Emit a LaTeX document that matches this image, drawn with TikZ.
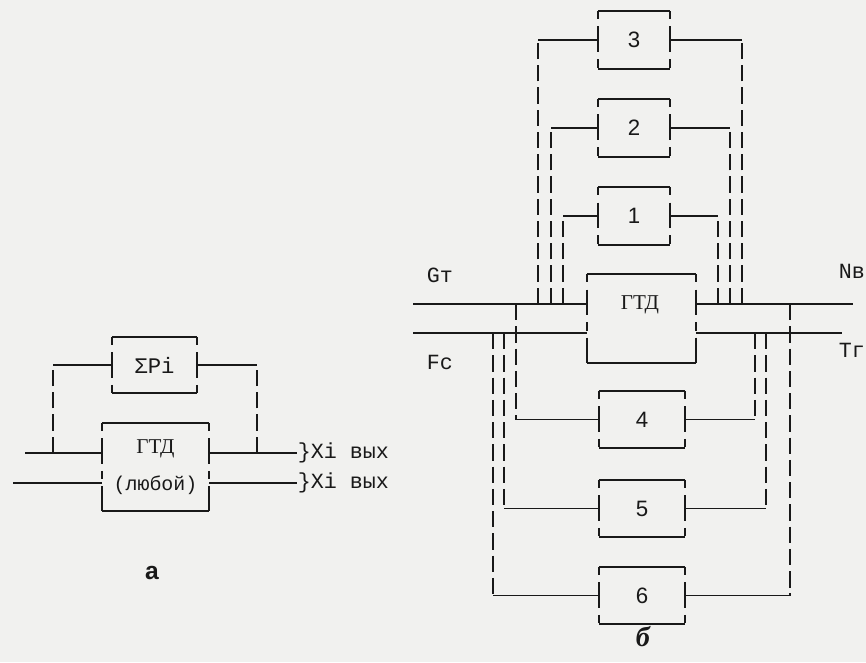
\documentclass[tikz,border=0pt]{standalone}
\usepackage{fontspec}
\setmainfont{Liberation Serif}
\newfontfamily\typewr{Liberation Mono}
\newfontfamily\arialf{Liberation Sans}
\usetikzlibrary{calc}
\definecolor{paper}{RGB}{241,241,239}
\definecolor{ink}{RGB}{25,25,25}

\begin{document}
\begin{tikzpicture}[
    x=0.03cm, y=-0.03cm,
    unit/.style={rectangle, inner sep=0pt, minimum width=2.16cm, minimum height=1.71cm, text=ink, font=\arialf\fontsize{19}{21}\selectfont},
    wideunit/.style={unit, minimum width=2.58cm},
    engine/.style={rectangle, inner sep=0pt, minimum width=3.27cm, minimum height=2.64cm, text=ink, font=\fontsize{18}{20}\selectfont},
    wire/.style={draw=ink, line width=1.5pt},
    dashwire/.style={draw=ink, line width=1.5pt, dash pattern=on 14pt off 5pt},
    side/.style={draw=ink, line width=1.5pt, dash pattern=on 7pt off 6pt on 22pt off 6pt},
    sig/.style={inner sep=0.5pt, text=ink, font=\typewr\fontsize{18.5}{20}\selectfont},
    caption/.style={text=ink, font=\arialf\bfseries\fontsize{21}{23}\selectfont}
]
    \useasboundingbox (0,0) rectangle (866,662);
    \fill[paper] (0,0) rectangle (866,662);

    % scheme a
    \node[unit, minimum width=2.55cm, minimum height=1.68cm, font=\typewr\fontsize{19}{21}\selectfont] (sum) at (154.5,365) {ΣPi};
    \node[engine, minimum width=3.21cm, align=center, font=\fontsize{18}{32}\selectfont] (gtdA) at (155.5,467)
        {ГТД\\{\typewr\fontsize{17}{19}\selectfont(любой)}};

    \coordinate (inA1) at (25,453);
    \coordinate (inA2) at (13,483);
    \coordinate (outA1) at (297,453);
    \coordinate (outA2) at (297,483);

    \draw[wire] (inA1) -- (inA1 -| gtdA.west);
    \draw[wire] (inA2) -- (inA2 -| gtdA.west);
    \draw[wire] (outA1 -| gtdA.east) -- (outA1);
    \draw[wire] (outA2 -| gtdA.east) -- (outA2);

    \draw[wire] (sum.west) -- (sum.west -| 53,0) coordinate (sumL);
    \draw[dashwire] (sumL |- inA1) -- (sumL);
    \draw[wire] (sum.east) -- (sum.east -| 257,0) coordinate (sumR);
    \draw[dashwire] (sumR |- outA1) -- (sumR);

    \node[sig, anchor=west] (xout1) at (outA1) {\}Xi вых};
    \node[sig, anchor=west] (xout2) at (outA2) {\}Xi вых};
    \node[caption] (capA) at (152,573) {а};

    % scheme b
    \node[unit] (b3) at (634,40) {3};
    \node[unit] (b2) at (634,128) {2};
    \node[unit] (b1) at (634,216) {1};
    \node[engine] (gtdB) at (641.5,318.5) {};
    \node[text=ink, font=\fontsize{18}{20}\selectfont] (gtdBname) at (640,305) {ГТД};
    \node[wideunit] (b4) at (642,419.5) {4};
    \node[wideunit] (b5) at (642,508.5) {5};
    \node[wideunit] (b6) at (642,595.5) {6};

    \coordinate (gIn) at (413,304);
    \coordinate (fIn) at (413,333);
    \coordinate (nOut) at (853,304);
    \coordinate (tOut) at (842,333);

    \draw[wire] (gIn) -- (gIn -| gtdB.west);
    \draw[wire] (fIn) -- (fIn -| gtdB.west);
    \draw[wire] (nOut -| gtdB.east) -- (nOut);
    \draw[wire] (tOut -| gtdB.east) -- (tOut);

    \node[sig, anchor=west] (gt) at (426,275) {Gт};
    \node[sig, anchor=west] (fc) at (426,362) {Fc};
    \node[sig, anchor=west] (nv) at (838,271) {Nв};
    \node[sig, anchor=west] (tg) at (838,350) {Tг};

    % control loops
    \foreach \b/\xl/\from/\xr/\to in {b3/538/gIn/742/nOut, b2/551/gIn/730/nOut, b1/563/gIn/718/nOut,
                                      b4/516/gIn/755/tOut, b5/504/fIn/766/tOut, b6/493/fIn/790/nOut}{
        \draw[wire] (\b.west) -- (\b.west -| \xl,0) coordinate (\b-l);
        \draw[dashwire] (\b-l |- \from) -- (\b-l);
        \draw[wire] (\b.east) -- (\b.east -| \xr,0) coordinate (\b-r);
        \draw[dashwire] (\b-r |- \to) -- (\b-r);
    }

    % box frames
    \foreach \b in {sum, gtdA, b3, b2, b1, gtdB, b4, b5, b6}{
        \draw[wire] (\b.north west) -- (\b.north east);
        \draw[wire] (\b.south west) -- (\b.south east);
        \draw[side] (\b.north west) -- (\b.south west);
        \draw[side] (\b.north east) -- (\b.south east);
    }

    \node[text=ink, font=\bfseries\itshape\fontsize{24}{26}\selectfont] (capB) at (643,637) {б};
\end{tikzpicture}
\end{document}
